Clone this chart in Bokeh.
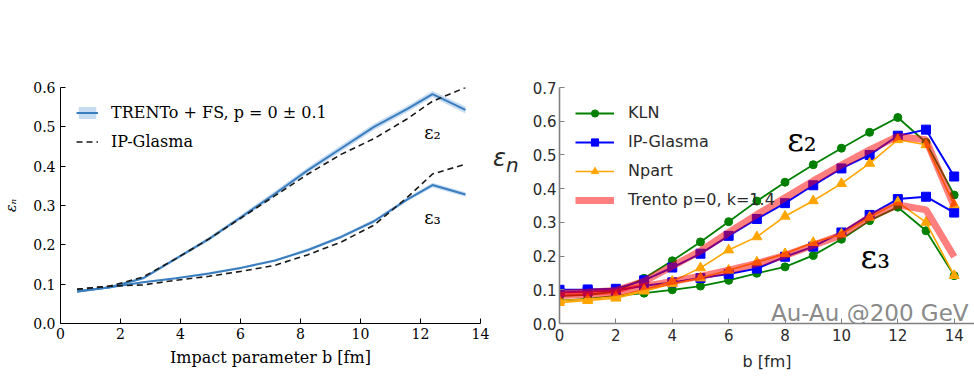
from bokeh.plotting import figure
from bokeh.layouts import row
from bokeh.models import Range1d, FixedTicker, PrintfTickFormatter, Legend, LegendItem, Label, Div
from bokeh.embed import file_html
from bokeh.resources import INLINE

# ---------------- left panel data ----------------
b_left = [0.55, 1.65, 2.75, 3.85, 4.95, 6.05, 7.15, 8.25, 9.35, 10.45, 11.55, 12.4, 13.5]
trento_e2 = [0.082, 0.092, 0.115, 0.165, 0.215, 0.272, 0.330, 0.390, 0.445, 0.500, 0.545, 0.583, 0.543]
trento_e2_err = [0.003, 0.003, 0.003, 0.004, 0.005, 0.006, 0.007, 0.007, 0.008, 0.008, 0.008, 0.008, 0.009]
trento_e3 = [0.081, 0.092, 0.105, 0.115, 0.127, 0.142, 0.160, 0.187, 0.220, 0.260, 0.315, 0.352, 0.328]
trento_e3_err = [0.002, 0.002, 0.002, 0.002, 0.003, 0.003, 0.003, 0.004, 0.004, 0.005, 0.005, 0.006, 0.006]
ipg_left_e2 = [0.087, 0.095, 0.118, 0.165, 0.215, 0.270, 0.325, 0.380, 0.430, 0.470, 0.520, 0.565, 0.600]
ipg_left_e3 = [0.087, 0.095, 0.098, 0.110, 0.120, 0.133, 0.148, 0.175, 0.207, 0.250, 0.320, 0.380, 0.405]

# ---------------- right panel data ----------------
b_right = [0, 1, 2, 3, 4, 5, 6, 7, 8, 9, 10, 11, 12, 13, 14]
kln_e2 = [0.082, 0.085, 0.095, 0.134, 0.186, 0.242, 0.302, 0.363, 0.419, 0.471, 0.520, 0.567, 0.611, 0.537, 0.381]
kln_e3 = [0.068, 0.073, 0.082, 0.090, 0.100, 0.111, 0.128, 0.149, 0.168, 0.202, 0.250, 0.305, 0.345, 0.275, 0.142]
ipg_e2 = [0.100, 0.101, 0.103, 0.128, 0.166, 0.207, 0.260, 0.310, 0.357, 0.410, 0.460, 0.500, 0.557, 0.575, 0.436]
ipg_e3 = [0.092, 0.095, 0.098, 0.112, 0.122, 0.135, 0.147, 0.163, 0.198, 0.228, 0.270, 0.322, 0.369, 0.376, 0.329]
npart_e2 = [0.068, 0.072, 0.080, 0.100, 0.125, 0.165, 0.218, 0.257, 0.318, 0.364, 0.415, 0.475, 0.545, 0.530, 0.352]
npart_e3 = [0.062, 0.068, 0.075, 0.096, 0.118, 0.135, 0.158, 0.182, 0.207, 0.240, 0.265, 0.315, 0.360, 0.300, 0.142]
trento_r_e2 = [0.090, 0.093, 0.098, 0.125, 0.170, 0.215, 0.270, 0.323, 0.373, 0.423, 0.470, 0.515, 0.555, 0.545, 0.347]
trento_r_e3 = [0.083, 0.086, 0.092, 0.110, 0.125, 0.140, 0.158, 0.178, 0.202, 0.232, 0.262, 0.315, 0.352, 0.337, 0.198]

left_xticks = [0, 2, 4, 6, 8, 10, 12, 14]
left_yticks = [0.0, 0.1, 0.2, 0.3, 0.4, 0.5, 0.6]
right_xticks = [0, 2, 4, 6, 8, 10, 12, 14]
right_yticks = [0.0, 0.1, 0.2, 0.3, 0.4, 0.5, 0.6, 0.7]

SERIF = "DejaVu Serif"
SANS = "DejaVu Sans"

# ================= LEFT =================
pL = figure(width=490, height=383, output_backend="svg", toolbar_location=None, title=None,
            x_range=Range1d(0, 14), y_range=Range1d(0, 0.6),
            min_border_left=57, min_border_right=10, min_border_top=87, min_border_bottom=60)
pL.outline_line_color = None
pL.grid.grid_line_color = None
pL.background_fill_color = "white"

BLUE = "#3a7ebf"
BAND = "#b9d3ee"
lo2 = [v - e for v, e in zip(trento_e2, trento_e2_err)]
hi2 = [v + e for v, e in zip(trento_e2, trento_e2_err)]
lo3 = [v - e for v, e in zip(trento_e3, trento_e3_err)]
hi3 = [v + e for v, e in zip(trento_e3, trento_e3_err)]
band2 = pL.varea(x=b_left, y1=lo2, y2=hi2, fill_color=BAND, fill_alpha=0.8)
pL.varea(x=b_left, y1=lo3, y2=hi3, fill_color=BAND, fill_alpha=0.8)
ln2 = pL.line(b_left, trento_e2, line_color=BLUE, line_width=2)
pL.line(b_left, trento_e3, line_color=BLUE, line_width=2)
dl2 = pL.line(b_left, ipg_left_e2, line_color="#1a1a1a", line_width=1.6, line_dash="6 4")
pL.line(b_left, ipg_left_e3, line_color="#1a1a1a", line_width=1.6, line_dash="6 4")

for ax in (pL.xaxis[0], pL.yaxis[0]):
    ax.axis_line_color = "black"
    ax.axis_line_width = 1
    ax.major_tick_in = 5
    ax.major_tick_out = 0
    ax.major_tick_line_color = "black"
    ax.minor_tick_line_color = None
    ax.major_label_text_font = SERIF
    ax.major_label_text_font_size = "14px"
    ax.major_label_text_color = "black"
    ax.axis_label_text_font = SERIF
    ax.axis_label_text_font_style = "normal"
    ax.axis_label_text_color = "black"
pL.xaxis.ticker = FixedTicker(ticks=left_xticks)
pL.yaxis.ticker = FixedTicker(ticks=left_yticks)
pL.xaxis.formatter = PrintfTickFormatter(format="%d")
pL.yaxis.formatter = PrintfTickFormatter(format="%.1f")
pL.xaxis.major_label_standoff = 4
pL.yaxis.major_label_standoff = 5
pL.xaxis.axis_label = "Impact parameter b [fm]"
pL.xaxis.axis_label_text_font_size = "16px"
pL.xaxis.axis_label_standoff = 6
pL.yaxis.axis_label = "εₙ"
pL.yaxis.axis_label_text_font_size = "14px"
pL.yaxis.axis_label_text_font_style = "italic"
pL.yaxis.axis_label_standoff = 11

legL = Legend(items=[LegendItem(label="TRENTo + FS, p = 0 ± 0.1", renderers=[band2, ln2]),
                     LegendItem(label="IP-Glasma", renderers=[dl2])],
              location="top_left", margin=6, padding=10, spacing=10,
              glyph_width=22, glyph_height=15, label_height=17, label_standoff=13,
              label_text_font=SERIF, label_text_font_size="16px", label_text_color="black",
              border_line_alpha=0, background_fill_alpha=0)
pL.add_layout(legL)

pL.add_layout(Label(x=12.4, y=0.486, text="ε₂", text_align="center", text_baseline="middle",
                    text_font=SERIF, text_font_size="18px", text_color="black"))
pL.add_layout(Label(x=12.4, y=0.270, text="ε₃", text_align="center", text_baseline="middle",
                    text_font=SERIF, text_font_size="18px", text_color="black"))

# ================= y label of right panel (upright) =================
ylab = Div(text="<i>ε<sub>n</sub></i>", width=30, height=383, margin=0,
           styles={"padding-top": "146px", "padding-left": "3px", "box-sizing": "border-box",
                   "overflow": "visible", "white-space": "nowrap",
                   "font-family": SANS, "font-size": "24px", "color": "#2a2a2a",
                   "line-height": "1"})

# ================= RIGHT =================
pR = figure(width=454, height=383, output_backend="svg", toolbar_location=None, title=None,
            x_range=Range1d(0, 14.72), y_range=Range1d(0, 0.7),
            min_border_left=39, min_border_right=0, min_border_top=15, min_border_bottom=57)
pR.outline_line_color = None
pR.grid.grid_line_color = None

GREEN = "#008000"
BLUE2 = "#0000ff"
ORANGE = "#ffa500"

renders = {}
for name, e2, e3, col, marker, msize, lw in [
        ("KLN", kln_e2, kln_e3, GREEN, "circle", 8, 1.8),
        ("IP-Glasma", ipg_e2, ipg_e3, BLUE2, "square", 9, 2.0),
        ("Npart", npart_e2, npart_e3, ORANGE, "triangle", 10, 1.6)]:
    l2 = pR.line(b_right, e2, line_color=col, line_width=lw)
    s2 = pR.scatter(b_right, e2, marker=marker, size=msize, fill_color=col, line_color=col)
    pR.line(b_right, e3, line_color=col, line_width=lw)
    pR.scatter(b_right, e3, marker=marker, size=msize, fill_color=col, line_color=col)
    renders[name] = [l2, s2]

tr2 = pR.line(b_right, trento_r_e2, line_color="#ff0000", line_alpha=0.5, line_width=7)
pR.line(b_right, trento_r_e3, line_color="#ff0000", line_alpha=0.5, line_width=7)

for ax in (pR.xaxis[0], pR.yaxis[0]):
    ax.axis_line_color = "#808080"
    ax.axis_line_width = 1.6
    ax.major_tick_in = 5
    ax.major_tick_out = 0
    ax.major_tick_line_color = "#808080"
    ax.minor_tick_line_color = None
    ax.major_label_text_font = SANS
    ax.major_label_text_font_size = "15px"
    ax.major_label_text_color = "#2a2a2a"
    ax.axis_label_text_font = SANS
    ax.axis_label_text_font_style = "normal"
    ax.axis_label_text_color = "#2a2a2a"
pR.xaxis.ticker = FixedTicker(ticks=right_xticks)
pR.yaxis.ticker = FixedTicker(ticks=right_yticks)
pR.xaxis.formatter = PrintfTickFormatter(format="%d")
pR.yaxis.formatter = PrintfTickFormatter(format="%.1f")
pR.xaxis.major_label_standoff = 5
pR.yaxis.major_label_standoff = 3
pR.xaxis.axis_label = "b [fm]"
pR.xaxis.axis_label_text_font_size = "16px"
pR.xaxis.axis_label_standoff = 8

legR = Legend(items=[LegendItem(label="KLN", renderers=renders["KLN"]),
                     LegendItem(label="IP-Glasma", renderers=renders["IP-Glasma"]),
                     LegendItem(label="Npart", renderers=renders["Npart"]),
                     LegendItem(label="Trento p=0, k=1.4", renderers=[tr2])],
              location="top_left", margin=6, padding=10, spacing=10,
              glyph_width=39, glyph_height=18, label_height=18, label_standoff=14,
              label_text_font=SANS, label_text_font_size="16px", label_text_color="#2a2a2a",
              border_line_alpha=0, background_fill_alpha=0)
pR.add_layout(legR)

pR.add_layout(Label(x=8.6, y=0.545, text="ε₂", text_align="center", text_baseline="middle",
                    text_font=SERIF, text_font_size="32px", text_color="black"))
pR.add_layout(Label(x=11.2, y=0.198, text="ε₃", text_align="center", text_baseline="middle",
                    text_font=SERIF, text_font_size="32px", text_color="black"))
pR.add_layout(Label(x=14.51, y=0.0315, text="Au-Au @200 GeV", text_align="right",
                    text_baseline="alphabetic", text_font=SANS, text_font_size="23px",
                    text_color="#8a8a8a"))

layout = row(pL, ylab, pR)
open("out.html", "w").write(file_html(layout, INLINE))
